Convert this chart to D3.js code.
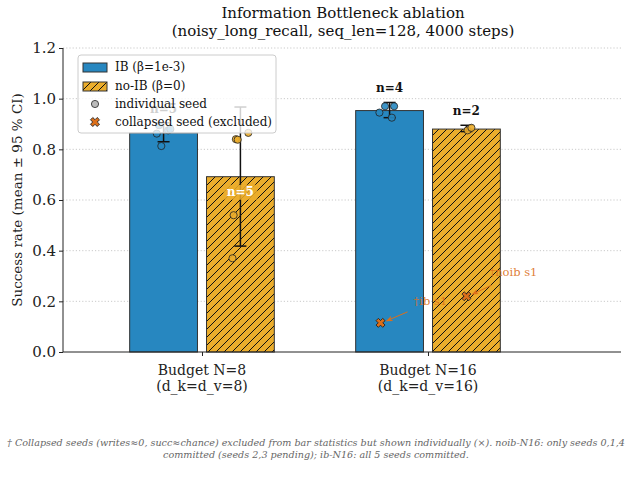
<!DOCTYPE html>
<html lang="en">
<head>
<meta charset="UTF-8">
<title>IB ablation</title>
<style>
  body{ margin:0; background:#fff; font-family:"DejaVu Serif", serif; }
  .axis text{ font-size:15px; fill:#222; font-family:"DejaVu Serif", serif; }
  .axis path, .axis line{ stroke:#222; stroke-width:1px; }
  .grid line{ stroke:#bdbdbd; stroke-dasharray:1.2,2; stroke-width:0.8px; }
  .title{ font-size:15px; fill:#111; text-anchor:middle; }
  .legend text{ font-size:12px; fill:#111; }
  .note{ font-size:9.6px; font-style:italic; fill:#666; text-anchor:middle; }
</style>
<script src="https://cdnjs.cloudflare.com/ajax/libs/d3/7.8.5/d3.min.js"></script>
</head>
<body>
<script>
// groups and series
var groups = ['Budget N=8', 'Budget N=16'];
var groupSub = ['(d_k=d_v=8)', '(d_k=d_v=16)'];
var series = ['IB', 'noIB'];
var seriesLabels = ['IB (\u03b2=1e-3)', 'no-IB (\u03b2=0)'];

// bar means and 95% CI
var ibMean   = [0.865, 0.953];
var ibLo     = [0.830, 0.925];
var ibHi     = [0.905, 0.985];
var noibMean = [0.692, 0.880];
var noibLo   = [0.418, 0.870];
var noibHi   = [0.967, 0.895];
var nLabels  = [[5, 5], [4, 2]];

// individual seeds: [group, value, jitter]
var ibSeeds = [[0, 0.813, -0.01], [0, 0.862, -0.03], [0, 0.875, 0.02], [0, 0.88, 0.03], [0, 0.895, -0.02],
               [1, 0.945, -0.045], [1, 0.970, -0.02], [1, 0.970, 0.02], [1, 0.925, 0.01]];
var noibSeeds = [[0, 0.840, -0.02], [0, 0.838, -0.012], [0, 0.865, 0.035], [0, 0.540, -0.03], [0, 0.370, -0.035],
                 [1, 0.875, 0.005], [1, 0.885, 0.022]];
// collapsed seeds: [group, series, value, label]
var collapsed = [[1, 0, 0.115, '\u2020ib s1'], [1, 1, 0.22, '\u2020noib s1']];

var yTicks = [0, 0.2, 0.4, 0.6, 0.8, 1.0, 1.2];
var colors = ['#2787c0', '#ebad2c'];
var xColor = '#dc6f1a';

var W = 633, H = 495;
var margin = {top: 48, right: 12, bottom: 143, left: 63};

var svg = d3.select('body').append('svg')
  .attr('width', W).attr('height', H);

var defs = svg.append('defs');
var pat = defs.append('pattern')
  .attr('id', 'hatch')
  .attr('patternUnits', 'userSpaceOnUse')
  .attr('width', 8).attr('height', 8);
pat.append('rect').attr('width', 8).attr('height', 8).attr('fill', colors[1]);
pat.append('path')
  .attr('d', 'M-2,2 l4,-4 M0,8 l8,-8 M6,10 l4,-4')
  .attr('stroke', '#111').attr('stroke-width', 1);

var x = d3.scaleLinear().domain([-0.615, 1.854]).range([margin.left, W - margin.right]);
var y = d3.scaleLinear().domain([0, 1.2]).range([H - margin.bottom, margin.top]);
var offset = [-0.17, 0.17];
var barW = 0.30;

// grid
svg.append('g').attr('class', 'grid')
  .selectAll('line').data(yTicks.slice(1)).enter().append('line')
  .attr('x1', margin.left).attr('x2', W - margin.right)
  .attr('y1', function(d){ return y(d); }).attr('y2', function(d){ return y(d); });

// bars
var bars = [];
groups.forEach(function(g, i){
  bars.push({g: i, s: 0, mean: ibMean[i], lo: ibLo[i], hi: ibHi[i], n: nLabels[i][0]});
  bars.push({g: i, s: 1, mean: noibMean[i], lo: noibLo[i], hi: noibHi[i], n: nLabels[i][1]});
});

svg.append('g').selectAll('rect').data(bars).enter().append('rect')
  .attr('x', function(d){ return x(d.g + offset[d.s] - barW / 2); })
  .attr('width', function(d){ return x(barW) - x(0); })
  .attr('y', function(d){ return y(d.mean); })
  .attr('height', function(d){ return y(0) - y(d.mean); })
  .attr('fill', function(d){ return d.s === 0 ? colors[0] : 'url(#hatch)'; })
  .attr('stroke', '#333').attr('stroke-width', 1);

// error bars
var eb = svg.append('g').selectAll('g').data(bars).enter().append('g')
  .attr('stroke', '#111').attr('stroke-width', 1.5);
eb.append('line')
  .attr('x1', function(d){ return x(d.g + offset[d.s]); })
  .attr('x2', function(d){ return x(d.g + offset[d.s]); })
  .attr('y1', function(d){ return y(d.lo); })
  .attr('y2', function(d){ return y(d.hi); });
['lo', 'hi'].forEach(function(k){
  eb.append('line')
    .attr('x1', function(d){ return x(d.g + offset[d.s]) - 6; })
    .attr('x2', function(d){ return x(d.g + offset[d.s]) + 6; })
    .attr('y1', function(d){ return y(d[k]); })
    .attr('y2', function(d){ return y(d[k]); });
});

// seeds
function drawSeeds(data, s){
  svg.append('g').selectAll('circle').data(data).enter().append('circle')
    .attr('cx', function(d){ return x(d[0] + offset[s] + d[2]); })
    .attr('cy', function(d){ return y(d[1]); })
    .attr('r', 3.6)
    .attr('fill', colors[s]).attr('fill-opacity', 0.9)
    .attr('stroke', '#222').attr('stroke-width', 0.8);
}
drawSeeds(ibSeeds, 0);
drawSeeds(noibSeeds, 1);

// n labels
var nl = svg.append('g');
bars.forEach(function(d){
  var cx = x(d.g + offset[d.s]);
  if (d.g === 0 && d.s === 1) {
    var ty = y(d.mean) + 19;
    nl.append('rect').attr('x', cx - 17).attr('y', ty - 11).attr('width', 34).attr('height', 15)
      .attr('fill', colors[1]).attr('fill-opacity', 0.85);
    nl.append('text').attr('x', cx).attr('y', ty)
      .attr('text-anchor', 'middle').attr('font-size', 12).attr('font-weight', 'bold')
      .attr('fill', '#fff').text('n=' + d.n);
  } else {
    nl.append('text').attr('x', cx).attr('y', y(d.hi) - 10)
      .attr('text-anchor', 'middle').attr('font-size', 12).attr('font-weight', 'bold')
      .attr('fill', '#111').text('n=' + d.n);
  }
});

// collapsed markers + annotations
var xPath = 'M-2.2,-4.5 L0,-2.3 L2.2,-4.5 L4.5,-2.2 L2.3,0 L4.5,2.2 L2.2,4.5 L0,2.3 L-2.2,4.5 L-4.5,2.2 L-2.3,0 L-4.5,-2.2 Z';
defs.append('marker').attr('id', 'arr').attr('viewBox', '0 0 10 10')
  .attr('refX', 9).attr('refY', 5).attr('markerWidth', 7).attr('markerHeight', 7)
  .attr('orient', 'auto-start-reverse')
  .append('path').attr('d', 'M0,1 L10,5 L0,9 L3,5 Z').attr('fill', xColor);

// [arrow start dx, dy, text dx, text dy]
var annOff = [[27, -11, 33, -18], [25, -11, 23, -20]];
collapsed.forEach(function(c, i){
  var cx = x(c[0] + offset[c[1]] + (c[1] === 0 ? -0.04 : 0));
  var cy = y(c[2]);
  svg.append('path').attr('d', xPath)
    .attr('transform', 'translate(' + cx + ',' + cy + ')')
    .attr('fill', xColor).attr('stroke', '#222').attr('stroke-width', 0.9);
  var a = annOff[i];
  svg.append('line')
    .attr('x1', cx + a[0]).attr('y1', cy + a[1])
    .attr('x2', cx + 6).attr('y2', cy - 2)
    .attr('stroke', xColor).attr('stroke-width', 1)
    .attr('marker-end', 'url(#arr)');
  svg.append('text').attr('x', cx + a[2]).attr('y', cy + a[3])
    .attr('font-size', 11.5).attr('fill', xColor).attr('fill-opacity', 0.9).text(c[3]);
});

// axes
var yAxis = d3.axisLeft(y).tickValues(yTicks).tickFormat(d3.format('.1f')).tickSize(4);
svg.append('g').attr('class', 'axis')
  .attr('transform', 'translate(' + margin.left + ',0)')
  .call(yAxis)
  .call(function(g){ g.select('.domain').attr('d', 'M0,' + y(1.2) + 'V' + y(0)); });

var xAxis = d3.axisBottom(x).tickValues([0, 1]).tickFormat('').tickSize(4);
var xg = svg.append('g').attr('class', 'axis')
  .attr('transform', 'translate(0,' + y(0) + ')')
  .call(xAxis);
xg.select('.domain').attr('d', 'M' + margin.left + ',0H' + (W - margin.right));
groups.forEach(function(g, i){
  var t = xg.append('text').attr('x', x(i)).attr('y', 23)
    .attr('text-anchor', 'middle').style('font-size', '14px');
  t.append('tspan').attr('x', x(i)).attr('dy', 0).text(g);
  t.append('tspan').attr('x', x(i)).attr('dy', 16).text(groupSub[i]);
});

svg.append('text')
  .attr('transform', 'translate(22,' + ((y(0) + y(1.2)) / 2) + ') rotate(-90)')
  .attr('text-anchor', 'middle').attr('font-size', 13.5).attr('fill', '#222')
  .text('Success rate (mean \u00b1 95 % CI)');

// title
svg.append('text').attr('class', 'title').attr('x', 343).attr('y', 18)
  .text('Information Bottleneck ablation');
svg.append('text').attr('class', 'title').attr('x', 343).attr('y', 36)
  .text('(noisy_long_recall, seq_len=128, 4000 steps)');

// legend
var lg = svg.append('g').attr('class', 'legend').attr('transform', 'translate(78,55)');
lg.append('rect').attr('width', 198).attr('height', 78).attr('rx', 3)
  .attr('fill', '#fff').attr('fill-opacity', 0.8).attr('stroke', '#ccc');
var rowY = [12, 31, 49, 67];
lg.append('rect').attr('x', 5).attr('y', rowY[0] - 4).attr('width', 24).attr('height', 9)
  .attr('fill', colors[0]).attr('stroke', '#333');
lg.append('rect').attr('x', 5).attr('y', rowY[1] - 4).attr('width', 24).attr('height', 9)
  .attr('fill', 'url(#hatch)').attr('stroke', '#333');
lg.append('circle').attr('cx', 17).attr('cy', rowY[2]).attr('r', 3.6)
  .attr('fill', '#bbb').attr('stroke', '#222').attr('stroke-width', 0.8);
lg.append('path').attr('d', xPath).attr('transform', 'translate(17,' + rowY[3] + ')')
  .attr('fill', xColor).attr('stroke', '#222').attr('stroke-width', 0.9);
var legTexts = seriesLabels.concat(['individual seed', 'collapsed seed (excluded)']);
legTexts.forEach(function(t, i){
  lg.append('text').attr('x', 37).attr('y', rowY[i] + 4).text(t);
});

// footnote
svg.append('text').attr('class', 'note').attr('x', 316).attr('y', 446)
  .text('\u2020 Collapsed seeds (writes\u22480, succ\u2248chance) excluded from bar statistics but shown individually (\u00d7). noib-N16: only seeds 0,1,4');
svg.append('text').attr('class', 'note').attr('x', 316).attr('y', 458)
  .text('committed (seeds 2,3 pending); ib-N16: all 5 seeds committed.');
</script>
</body>
</html>
